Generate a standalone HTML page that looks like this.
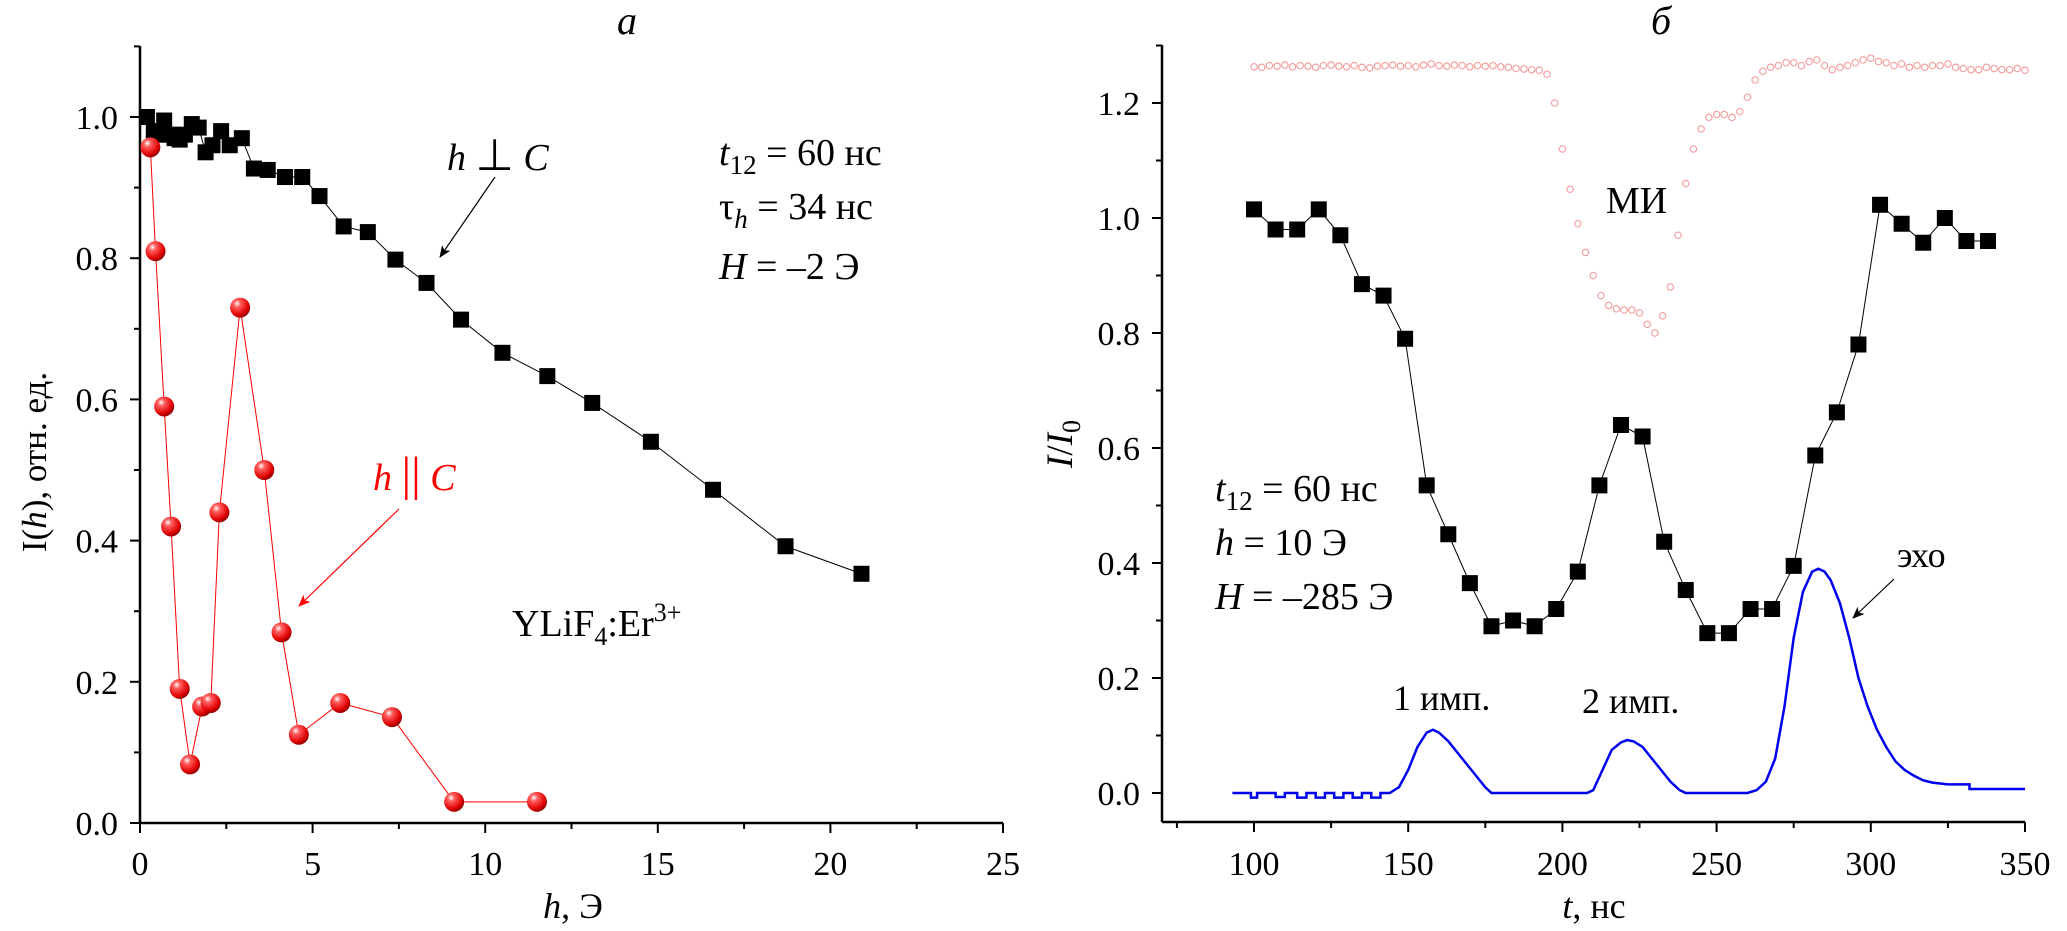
<!DOCTYPE html>
<html><head><meta charset="utf-8"><style>
html,body{margin:0;padding:0;background:#fff;}
svg{display:block;}
svg text{font-family:"Liberation Serif","Times New Roman",serif;}
</style></head><body>
<svg id="c" width="2067" height="931" viewBox="0 0 2067 931" xmlns="http://www.w3.org/2000/svg">
<defs>
<radialGradient id="ball" cx="0.35" cy="0.3" r="0.7">
<stop offset="0" stop-color="#fff"/><stop offset="0.25" stop-color="#ff6060"/><stop offset="0.8" stop-color="#e00000"/><stop offset="1" stop-color="#900"/>
</radialGradient>
<marker id="ab" markerWidth="12" markerHeight="10" refX="11" refY="5" orient="auto" markerUnits="userSpaceOnUse"><path d="M0,0 L12,5 L0,10 L3,5 z" fill="#000"/></marker>
<marker id="ar" markerWidth="12" markerHeight="10" refX="11" refY="5" orient="auto" markerUnits="userSpaceOnUse"><path d="M0,0 L12,5 L0,10 L3,5 z" fill="#f00"/></marker>
</defs>
<g id="L"></g>
<g id="R"></g>
</svg>
<script>
// Left chart data
const perpH = [0.2,0.4,0.55,0.7,0.85,1.0,1.15,1.3,1.5,1.7,1.9,2.1,2.35,2.6,2.95,3.3,3.7,4.2,4.7,5.2,5.9,6.6,7.4,8.3,9.3,10.5,11.8,13.1,14.8,16.6,18.7,20.9];
const perpI = [1.0,0.98,0.975,0.995,0.975,0.97,0.968,0.975,0.99,0.985,0.95,0.96,0.98,0.96,0.97,0.927,0.925,0.915,0.915,0.888,0.845,0.837,0.798,0.765,0.713,0.666,0.633,0.595,0.54,0.472,0.392,0.353];
const parH = [0.3,0.45,0.7,0.9,1.15,1.45,1.8,2.05,2.3,2.9,3.6,4.1,4.6,5.8,7.3,9.1,11.5];
const parI = [0.957,0.81,0.59,0.42,0.19,0.083,0.165,0.17,0.44,0.73,0.5,0.27,0.125,0.17,0.15,0.03,0.03];
const leftXTicks = [0,5,10,15,20,25];
const leftYTicks = ["0.0","0.2","0.4","0.6","0.8","1.0"];
// Right chart data
const sqT = [100,107,114,121,128,135,142,149,156,163,170,177,184,191,198,205,212,219,226,233,240,247,254,261,268,275,282,289,296,303,310,317,324,331,338];
const sqV = [1.015,0.98,0.98,1.015,0.97,0.885,0.865,0.79,0.535,0.45,0.365,0.29,0.30,0.29,0.32,0.385,0.535,0.64,0.62,0.437,0.353,0.278,0.278,0.32,0.32,0.395,0.587,0.662,0.78,1.023,0.99,0.957,1.0,0.96,0.96];
const miStart = 100, miStep = 2.5;
const miV = [1.263,1.262,1.265,1.264,1.266,1.263,1.265,1.264,1.262,1.265,1.266,1.264,1.263,1.265,1.262,1.261,1.264,1.265,1.266,1.264,1.265,1.263,1.266,1.268,1.265,1.264,1.266,1.265,1.263,1.265,1.264,1.265,1.263,1.262,1.26,1.259,1.258,
1.257,1.25,1.2,1.12,1.05,0.99,0.94,0.9,0.865,0.848,0.842,0.84,0.84,0.835,0.815,0.8,0.83,0.88,0.97,1.06,1.12,1.155,1.175,1.18,1.18,1.175,1.185,1.21,1.24,1.255,1.262,1.265,1.27,1.27,1.265,1.272,1.275,1.265,1.258,1.262,1.265,1.27,1.275,1.278,1.272,1.27,1.265,1.268,1.262,1.265,1.262,1.265,1.265,1.268,1.262,1.26,1.258,1.258,1.262,1.26,1.258,1.258,1.26,1.257];
const blT = [93,99,99,101,101,107,107,110,110,114,114,117,117,120,120,123,123,126,126,129,129,132,132,135,135,138,138,141,141,144,147,150,153,156,158,160,163,166,169,172,175,177,208,210,213,216,219,221,223,226,229,232,235,238,240,260,263,266,269,272,275,278,281,283,285,287,290,293,296,299,302,305,308,311,314,317,320,325,330,332,332,350];
const blV = [0,0,-0.008,-0.008,0,0,-0.007,-0.007,0,0,-0.008,-0.008,0,0,-0.008,-0.008,0,0,-0.008,-0.008,0,0,-0.008,-0.008,0,0,-0.008,-0.008,0,0,0.01,0.04,0.08,0.105,0.11,0.105,0.09,0.07,0.05,0.03,0.01,0,0,0.005,0.04,0.075,0.088,0.092,0.09,0.08,0.06,0.04,0.02,0.005,0,0,0.005,0.02,0.06,0.15,0.27,0.35,0.385,0.39,0.385,0.37,0.33,0.27,0.2,0.15,0.11,0.08,0.055,0.04,0.03,0.022,0.018,0.015,0.015,0.015,0.007,0.007];
const rightXTicks = [100,150,200,250,300,350];
const rightYTicks = ["0.0","0.2","0.4","0.6","0.8","1.0","1.2"];

const NS="http://www.w3.org/2000/svg";
function mk(parent,tag,attrs,text){const e=document.createElementNS(NS,tag);for(const k in attrs)e.setAttribute(k,attrs[k]);if(text!==undefined)e.textContent=text;parent.appendChild(e);return e;}

// ---- Left panel ----
const L=document.getElementById('L');
const lx=v=>140+v*(1003-140)/25;
const ly=v=>823-v*(823-117);
let e;
e=mk(L,'line',{x1:140,y1:823,x2:1003,y2:823,stroke:'#000','stroke-width':2.5});

e=mk(L,'line',{x1:140,y1:823,x2:140,y2:46,stroke:'#000','stroke-width':2.5});

for(let v=0;v<=25.01;v+=2.5){const major=Math.abs(v%5)<0.01;mk(L,'line',{x1:lx(v),y1:823,x2:lx(v),y2:823+(major?10:6),stroke:'#000','stroke-width':2});}
leftXTicks.forEach(v=>{e=mk(L,'text',{x:lx(v),y:875,'font-size':34,'text-anchor':'middle'},String(v));});
for(let i=0;i<=11;i++){const v=i/10;mk(L,'line',{x1:140,y1:ly(v),x2:140-(i%2==0?10:6),y2:ly(v),stroke:'#000','stroke-width':2});}
leftYTicks.forEach(s=>{e=mk(L,'text',{x:118,y:ly(parseFloat(s))+12,'font-size':34,'text-anchor':'end'},s);});
e=mk(L,'polyline',{points:perpH.map((h,i)=>lx(h)+','+ly(perpI[i])).join(' '),fill:'none',stroke:'#000','stroke-width':1});

perpH.forEach((h,i)=>{e=mk(L,'rect',{x:lx(h)-8,y:ly(perpI[i])-8,width:16,height:16,fill:'#000'});});
e=mk(L,'polyline',{points:parH.map((h,i)=>lx(h)+','+ly(parI[i])).join(' '),fill:'none',stroke:'#f00','stroke-width':1});

parH.forEach((h,i)=>{e=mk(L,'circle',{cx:lx(h),cy:ly(parI[i]),r:10,fill:'url(#ball)'});});
</script>
<script>
// ---- Right panel ----
const R=document.getElementById('R');
const rx=t=>1254+(t-100)*(2025-1254)/250;
const ry=v=>793-v*(793-103)/1.2;
let f;
f=mk(R,'line',{x1:1162,y1:822,x2:2025,y2:822,stroke:'#000','stroke-width':2.5});

f=mk(R,'line',{x1:1162,y1:822,x2:1162,y2:45,stroke:'#000','stroke-width':2.5});

for(let t=75;t<=350;t+=25){const major=t%50==0;mk(R,'line',{x1:rx(t),y1:822,x2:rx(t),y2:822+(major?10:6),stroke:'#000','stroke-width':2});}
rightXTicks.forEach(t=>{f=mk(R,'text',{x:rx(t),y:875,'font-size':34,'text-anchor':'middle'},String(t));});
for(let i=0;i<=13;i++){const v=i/10;mk(R,'line',{x1:1162,y1:ry(v),x2:1162-(i%2==0?10:6),y2:ry(v),stroke:'#000','stroke-width':2});}
rightYTicks.forEach(s=>{f=mk(R,'text',{x:1140,y:ry(parseFloat(s))+12,'font-size':34,'text-anchor':'end'},s);});
miV.forEach((v,i)=>{f=mk(R,'circle',{cx:rx(miStart+i*miStep),cy:ry(v),r:3.2,fill:'none',stroke:'#f4a0a0','stroke-width':1.2});});
f=mk(R,'polyline',{points:blT.map((t,i)=>rx(t)+','+ry(blV[i])).join(' '),fill:'none',stroke:'#0000ee','stroke-width':2.5});

f=mk(R,'polyline',{points:sqT.map((t,i)=>rx(t)+','+ry(sqV[i])).join(' '),fill:'none',stroke:'#000','stroke-width':1});

sqT.forEach((t,i)=>{f=mk(R,'rect',{x:rx(t)-8,y:ry(sqV[i])-8,width:16,height:16,fill:'#000'});});
</script>
<script>
// ---- Text annotations ----
const C=document.getElementById('c');
function txt(html,attrs,name){const g=mk(C,'text',attrs);g.innerHTML=html;return g;}
txt('a',{x:627,y:34,'font-size':40,'font-style':'italic','text-anchor':'middle'},'left-panel-title');
txt('б',{x:1661,y:34,'font-size':40,'font-style':'italic','text-anchor':'middle'},'right-panel-title');
txt('I(<tspan font-style="italic">h</tspan>), отн. ед.',{x:0,y:0,'font-size':35,'text-anchor':'middle',transform:'translate(46,462) rotate(-90)'},'left-y-axis-title');
txt('<tspan font-style="italic">h</tspan>, Э',{x:573,y:918,'font-size':36,'text-anchor':'middle'},'left-x-axis-title');
txt('<tspan font-style="italic">h</tspan> <tspan font-size="44">⊥</tspan> <tspan font-style="italic">C</tspan>',{x:447,y:170,'font-size':38},'perp-label');
txt('<tspan font-style="italic">t</tspan><tspan font-size="27" dy="9">12</tspan><tspan dy="-9"> = 60 нс</tspan>',{x:719,y:165,'font-size':38},'left-t12-label');
txt('τ<tspan font-style="italic" font-size="27" dy="9">h</tspan><tspan dy="-9"> = 34 нс</tspan>',{x:719,y:219,'font-size':38},'left-tau-label');
txt('<tspan font-style="italic">H</tspan> = –2 Э',{x:719,y:279,'font-size':38},'left-H-label');
txt('<tspan font-style="italic">h</tspan> <tspan font-size="48">||</tspan> <tspan font-style="italic">C</tspan>',{x:373,y:490,'font-size':38,fill:'#f00'},'par-label');
txt('YLiF<tspan font-size="26" dy="9">4</tspan><tspan dy="-9">:Er</tspan><tspan font-size="26" dy="-15">3+</tspan>',{x:512,y:636,'font-size':38},'sample-label');
txt('<tspan font-style="italic">I</tspan>/<tspan font-style="italic">I</tspan><tspan font-size="26" dy="8">0</tspan>',{x:0,y:0,'font-size':37,'text-anchor':'middle',transform:'translate(1072,444) rotate(-90)'},'right-y-axis-title');
txt('<tspan font-style="italic">t</tspan>, нс',{x:1594,y:918,'font-size':36,'text-anchor':'middle'},'right-x-axis-title');
txt('<tspan font-style="italic">t</tspan><tspan font-size="27" dy="9">12</tspan><tspan dy="-9"> = 60 нс</tspan>',{x:1215,y:501,'font-size':38},'right-t12-label');
txt('<tspan font-style="italic">h</tspan> = 10 Э',{x:1215,y:555,'font-size':38},'right-h-label');
txt('<tspan font-style="italic">H</tspan> = –285 Э',{x:1215,y:609,'font-size':38},'right-H-label');
txt('МИ',{x:1606,y:213,'font-size':38},'mi-label');
txt('эхо',{x:1897,y:567,'font-size':36},'echo-label');
txt('1 имп.',{x:1393,y:710,'font-size':36},'pulse1-label');
txt('2 имп.',{x:1582,y:713,'font-size':36},'pulse2-label');
let a;
a=mk(C,'line',{x1:495,y1:177,x2:440,y2:257,stroke:'#000','stroke-width':1.2,'marker-end':'url(#ab)'});

a=mk(C,'line',{x1:399,y1:509,x2:299,y2:606,stroke:'#f00','stroke-width':1.2,'marker-end':'url(#ar)'});

a=mk(C,'line',{x1:1894,y1:579,x2:1853,y2:618,stroke:'#000','stroke-width':1.2,'marker-end':'url(#ab)'});

</script>
</body></html>
